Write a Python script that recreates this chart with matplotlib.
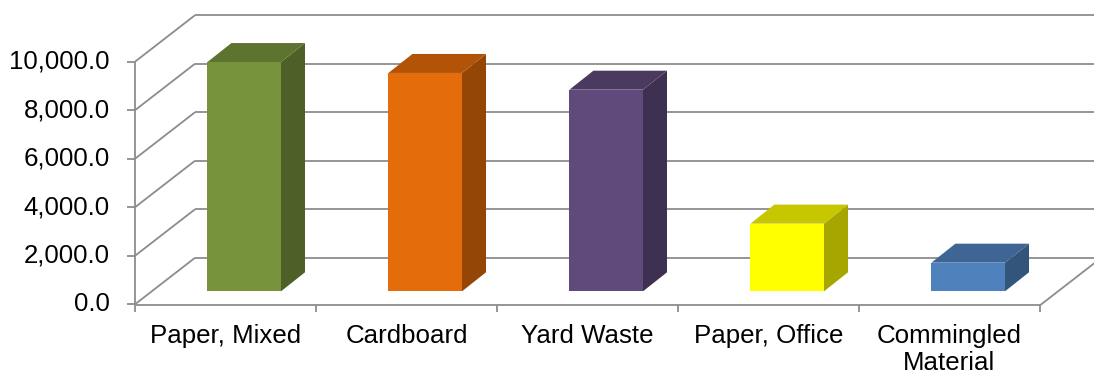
import matplotlib
matplotlib.use("Agg")
import matplotlib.pyplot as plt
from matplotlib.patches import Polygon
from matplotlib.colors import to_rgb

# Recycled material by category (tons)
categories = ["Paper, Mixed", "Cardboard", "Yard Waste", "Paper, Office",
              "Commingled\nMaterial"]
tonnage = [9450, 9000, 8310, 2790, 1180]
value_ticks = [0, 2000, 4000, 6000, 8000, 10000]
tick_labels = [f"{v:,.1f}" for v in value_ticks]
front_colors = ["#77933C", "#E46C0A", "#604A7B", "#FFFF00", "#4F81BD"]

W, H, DPI = 1094, 379, 100
fig = plt.figure(figsize=(W / DPI, H / DPI), dpi=DPI)
ax = fig.add_axes([0, 0, 1, 1])
ax.axis("off")

# Oblique-projection layout, expressed in pixels then converted to data units
X0, CAT = 135.0, 181.0          # left edge of plot floor, width of one category
Y0, PXU = 304.3, 24.26 / 1000   # pixel row of value 0, pixels per value unit
ax.set_xlim(-X0 / CAT, (W - X0) / CAT)
ax.set_ylim(-(H - Y0) / PXU, Y0 / PXU)


def px_x(p):
    return p / CAT


def px_y(p):
    return p / PXU


WALL_DX, WALL_DY = px_x(60), px_y(46.5)
BAR_BASE = px_y(13)
BAR_DX, BAR_DY = px_x(24.0), px_y(19.0)
BAR_LEFT = px_x(72.4)
BAR_W = px_x(73.6)
n = len(categories)
x_far = (W - X0) / CAT + 1

grid_kw = dict(color="#8C8C8C", lw=1.3, solid_capstyle="butt", zorder=1)

# back wall and side wall gridlines
for v in value_ticks:
    ax.plot([WALL_DX, x_far], [v + WALL_DY] * 2, **grid_kw)
    ax.plot([0, WALL_DX], [v, v + WALL_DY], **grid_kw)
    ax.plot([-px_x(8), 0], [v, v], **grid_kw)

# value axis, floor edge and category ticks
ax.plot([0, 0], [0, value_ticks[-1]], **grid_kw)
ax.plot([0, n], [-px_y(1), -px_y(1)], **grid_kw)
ax.plot([n, n + WALL_DX], [-px_y(1), WALL_DY - px_y(1)], **grid_kw)
for i in range(n + 1):
    ax.plot([i, i], [-px_y(1), -px_y(8)], **grid_kw)


def shade(c, f):
    r, g, b = to_rgb(c)
    return (r * f, g * f, b * f)


# 3-D looking columns: front faces as bars, top and side faces as polygons
lefts = [i + BAR_LEFT for i in range(n)]
ax.bar(lefts, tonnage, width=BAR_W, bottom=BAR_BASE, align="edge",
       color=front_colors, linewidth=0, zorder=3)
for xl, v, c in zip(lefts, tonnage, front_colors):
    xr = xl + BAR_W
    top = BAR_BASE + v
    side = [(xr, BAR_BASE), (xr + BAR_DX, BAR_BASE + BAR_DY),
            (xr + BAR_DX, top + BAR_DY), (xr, top)]
    lid = [(xl, top), (xr, top), (xr + BAR_DX, top + BAR_DY),
           (xl + BAR_DX, top + BAR_DY)]
    ax.add_patch(Polygon(side, closed=True, facecolor=shade(c, 0.65),
                         edgecolor="none", zorder=3))
    ax.add_patch(Polygon(lid, closed=True, facecolor=shade(c, 0.78),
                         edgecolor="none", zorder=3))

font = dict(family=["Liberation Sans", "DejaVu Sans"], fontsize=18.6,
            color="black")
for v, lab in zip(value_ticks, tick_labels):
    ax.text(-px_x(25), v, lab, ha="right", va="center", **font)
for i, cat in enumerate(categories):
    ax.text(i + 0.5, -px_y(20), cat, ha="center", va="top",
            linespacing=1.12, **font)

fig.savefig("out.png", dpi=DPI)
